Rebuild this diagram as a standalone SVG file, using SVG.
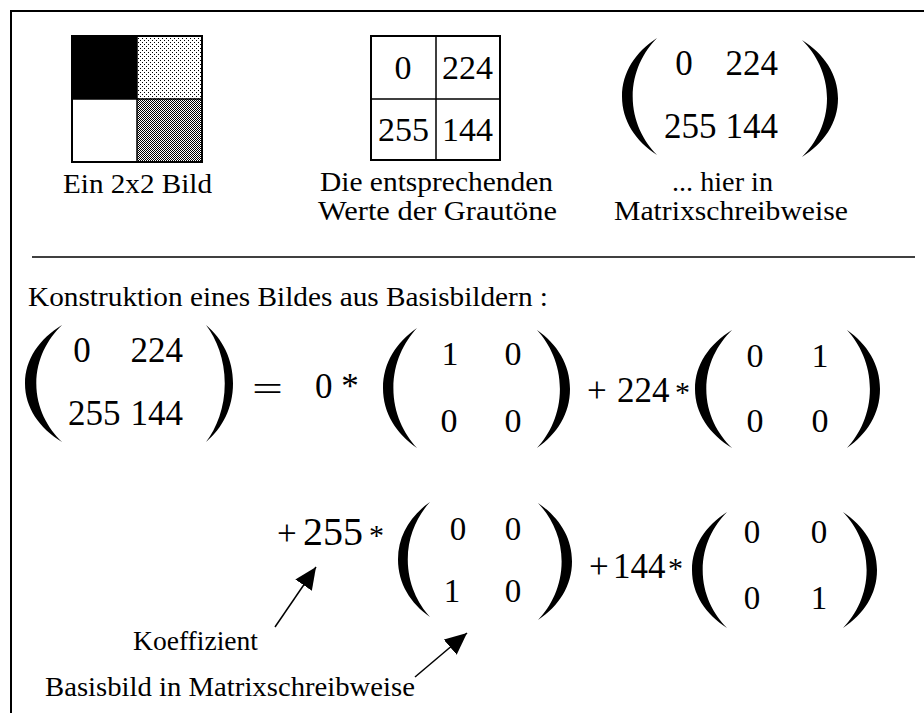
<svg xmlns="http://www.w3.org/2000/svg" xmlns:xlink="http://www.w3.org/1999/xlink" width="924" height="713" viewBox="0 0 924 713">
<style>
.t{font-family:"Liberation Serif","Times New Roman",serif;font-size:27px;fill:#000}
.n{font-family:"Liberation Serif","Times New Roman",serif;font-size:35px;fill:#000}
.g{font-family:"Liberation Serif","Times New Roman",serif;font-size:34px;fill:#000}
.s{font-family:"Liberation Serif","Times New Roman",serif;font-size:33px;fill:#000}
.ln{stroke:#000;fill:none}
</style>
<defs>
<pattern id="light" width="4" height="4" patternUnits="userSpaceOnUse">
<rect width="4" height="4" fill="#fff"/>
<rect x="0" y="0" width="1" height="1" fill="#000"/>
<rect x="2" y="2" width="1" height="1" fill="#000"/>
</pattern>
<pattern id="dark" width="2" height="2" patternUnits="userSpaceOnUse">
<rect width="2" height="2" fill="#fff"/>
<rect x="0" y="0" width="1" height="1" fill="#000"/>
<rect x="1" y="1" width="1" height="1" fill="#000"/>
</pattern>
<path id="lp" d="M36,0 C14,14 0,34 0,58.5 C0,83 14,103 36,117 C22,103 11,83 11,58.5 C11,34 22,14 36,0 Z" fill="#000"/>
<marker id="ah" markerUnits="userSpaceOnUse" markerWidth="24" markerHeight="22" refX="22" refY="10" orient="auto">
<path d="M0,0 L22,10 L0,20 Z" fill="#000"/>
</marker>
</defs>
<rect width="924" height="713" fill="#fff"/>
<g id="frame"><path class="ln" stroke-width="2" d="M11,713 V11 H924"/></g>

<g id="image2x2">
<rect x="72" y="36" width="65" height="63" fill="#000"/>
<rect x="137" y="36" width="65" height="63" fill="url(#light)"/>
<rect x="72" y="99" width="65" height="63" fill="#fff"/>
<rect x="137" y="99" width="65" height="63" fill="url(#dark)"/>
<path class="ln" stroke-width="1.5" d="M137,36 V162 M72,99 H202"/>
<rect class="ln" stroke-width="2" x="72" y="36" width="130" height="126"/>
<text class="t" x="63" y="193" textLength="149" lengthAdjust="spacingAndGlyphs">Ein 2x2 Bild</text>
</g>

<g id="grid">
<rect class="ln" stroke-width="2" x="371" y="36" width="129" height="124"/>
<path class="ln" stroke-width="1.5" d="M436,36 V160 M371,99 H500"/>
<text class="g" x="403" y="79" text-anchor="middle">0</text>
<text class="g" x="493" y="79" text-anchor="end">224</text>
<text class="g" x="378" y="141">255</text>
<text class="g" x="493" y="141" text-anchor="end">144</text>
<text class="t" x="320" y="191" textLength="233" lengthAdjust="spacingAndGlyphs">Die entsprechenden</text>
<text class="t" x="318" y="220" textLength="239" lengthAdjust="spacingAndGlyphs">Werte der Grautöne</text>
</g>

<g id="matrix-top">
<use xlink:href="#lp" transform="translate(622,38) scale(0.972,1)"/>
<use xlink:href="#lp" transform="translate(838,40) scale(-1,1)"/>
<text class="n" x="684" y="75" text-anchor="middle">0</text>
<text class="n" x="778" y="75" text-anchor="end">224</text>
<text class="n" x="664" y="138">255</text>
<text class="n" x="778" y="138" text-anchor="end">144</text>
<text class="t" x="672" y="191" textLength="101" lengthAdjust="spacingAndGlyphs">... hier in</text>
<text class="t" x="614" y="220" textLength="234" lengthAdjust="spacingAndGlyphs">Matrixschreibweise</text>
</g>

<g id="separator"><path class="ln" stroke-width="1.5" d="M32,257 H915"/></g>

<g id="title"><text class="t" x="28" y="306" textLength="520" lengthAdjust="spacingAndGlyphs">Konstruktion eines Bildes aus Basisbildern :</text></g>

<g id="matrix-left">
<use xlink:href="#lp" transform="translate(25,325) scale(1.028,1)"/>
<use xlink:href="#lp" transform="translate(233,325) scale(-0.75,1)"/>
<text class="n" x="82" y="362" text-anchor="middle">0</text>
<text class="n" x="183" y="362" text-anchor="end">224</text>
<text class="n" x="68" y="425">255</text>
<text class="n" x="183" y="425" text-anchor="end">144</text>
</g>

<g id="equals"><text class="n" x="252" y="401" font-size="46" textLength="31" lengthAdjust="spacingAndGlyphs">=</text></g>

<g id="basis1">
<text class="n" x="315" y="398" font-size="29">0 *</text>
<use xlink:href="#lp" transform="translate(383,328) scale(0.944,1.026)"/>
<use xlink:href="#lp" transform="translate(570,330) scale(-0.917,1.009)"/>
<text class="g" x="450" y="365" text-anchor="middle">1</text>
<text class="g" x="513" y="365" text-anchor="middle">0</text>
<text class="g" x="449" y="432" text-anchor="middle">0</text>
<text class="g" x="513" y="432" text-anchor="middle">0</text>
</g>

<g id="basis2">
<text class="n" y="402"><tspan x="587">+</tspan><tspan x="617">224</tspan><tspan x="675" font-size="30">*</tspan></text>
<use xlink:href="#lp" transform="translate(695,330) scale(1.028,1.009)"/>
<use xlink:href="#lp" transform="translate(880,330) scale(-0.917,1.009)"/>
<text class="g" x="755" y="367" text-anchor="middle">0</text>
<text class="g" x="820" y="367" text-anchor="middle">1</text>
<text class="g" x="755" y="432" text-anchor="middle">0</text>
<text class="g" x="820" y="432" text-anchor="middle">0</text>
</g>

<g id="basis3">
<text class="n" y="545"><tspan x="277">+</tspan><tspan x="303" font-size="40">255</tspan><tspan x="369" font-size="30">*</tspan></text>
<use xlink:href="#lp" transform="translate(398,502) scale(0.889,0.983)"/>
<use xlink:href="#lp" transform="translate(572,503) scale(-0.944,1)"/>
<text class="s" x="458" y="540" text-anchor="middle">0</text>
<text class="s" x="513" y="540" text-anchor="middle">0</text>
<text class="s" x="452" y="602" text-anchor="middle">1</text>
<text class="s" x="513" y="602" text-anchor="middle">0</text>
</g>

<g id="basis4">
<text class="n" y="578"><tspan x="589">+</tspan><tspan x="613">144</tspan><tspan x="668" font-size="30">*</tspan></text>
<use xlink:href="#lp" transform="translate(692,512) scale(0.972,0.991)"/>
<use xlink:href="#lp" transform="translate(877,512) scale(-0.944,0.991)"/>
<text class="s" x="752" y="543" text-anchor="middle">0</text>
<text class="s" x="819" y="543" text-anchor="middle">0</text>
<text class="s" x="752" y="609" text-anchor="middle">0</text>
<text class="s" x="819" y="609" text-anchor="middle">1</text>
</g>

<g id="labels">
<text class="t" x="133" y="650" textLength="125" lengthAdjust="spacingAndGlyphs">Koeffizient</text>
<text class="t" x="45" y="696" textLength="370" lengthAdjust="spacingAndGlyphs">Basisbild in Matrixschreibweise</text>
</g>

<g id="connectors">
<line class="ln" stroke-width="1.5" x1="275" y1="627" x2="316" y2="567" marker-end="url(#ah)"/>
<line class="ln" stroke-width="1.5" x1="415" y1="677" x2="467" y2="633" marker-end="url(#ah)"/>
</g>
</svg>
